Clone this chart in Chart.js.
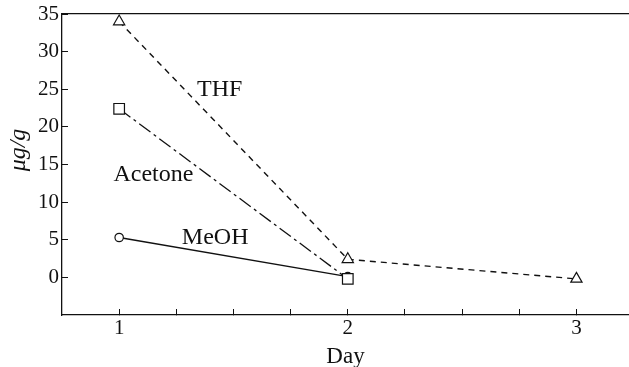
<!DOCTYPE html>
<html>
<head>
<meta charset="utf-8">
<script src="https://cdn.jsdelivr.net/npm/chart.js@4/dist/chart.umd.min.js"></script>
<style>
  html, body { margin: 0; padding: 0; background: #fff; }
  #wrap { width: 629px; height: 367px; }
</style>
</head>
<body>
<div id="wrap"><canvas id="myChart" width="629" height="367"></canvas></div>
<script>
// data
var days = [1, 2, 3];
var thf = [34, 2.4, -0.2];
var acetone = [22.4, -0.2];
var meoh = [5.3, 0.1];

// in-plot series labels (day, value)
var labelNames = ['THF', 'Acetone', 'MeOH'];
var labelDays = [1.44, 1.15, 1.42];
var labelValues = [25.0, 13.6, 5.3];

var serif = "'Liberation Serif', 'Times New Roman', serif";

function pts(xs, ys) {
	return ys.map(function (v, i) { return { x: xs[i], y: v }; });
}

var seriesLabels = {
	id: 'seriesLabels',
	afterDatasetsDraw: function (chart) {
		var ctx = chart.ctx;
		var sx = chart.scales.x, sy = chart.scales.y;
		ctx.save();
		ctx.fillStyle = '#111';
		ctx.font = '24px ' + serif;
		ctx.textAlign = 'center';
		ctx.textBaseline = 'middle';
		for (var i = 0; i < labelNames.length; i++) {
			ctx.fillText(labelNames[i], sx.getPixelForValue(labelDays[i]), sy.getPixelForValue(labelValues[i]));
		}
		// y axis title, sits a bit above the axis centre in the original
		ctx.translate(19, 150);
		ctx.rotate(-Math.PI / 2);
		ctx.font = 'italic 24px ' + serif;
		ctx.fillText('μg/g', 0, 0);
		ctx.restore();
	}
};

var ctx = document.getElementById('myChart');
new Chart(ctx, {
	type: 'line',
	data: {
		datasets: [
			{
				label: 'THF',
				data: pts(days, thf),
				borderColor: '#111',
				borderWidth: 1.4,
				borderDash: [6, 5],
				pointStyle: 'triangle',
				pointRadius: 6.5,
				pointBackgroundColor: '#fff',
				pointBorderColor: '#111',
				pointBorderWidth: 1.2
			},
			{
				label: 'Acetone',
				data: pts(days, acetone),
				borderColor: '#111',
				borderWidth: 1.3,
				borderDash: [14, 4, 3, 4],
				pointStyle: 'rect',
				pointRadius: 7.5,
				pointBackgroundColor: '#fff',
				pointBorderColor: '#111',
				pointBorderWidth: 1.2
			},
			{
				label: 'MeOH',
				data: pts(days, meoh),
				borderColor: '#111',
				borderWidth: 1.3,
				pointStyle: 'circle',
				pointRadius: 4.2,
				pointBackgroundColor: '#fff',
				pointBorderColor: '#111',
				pointBorderWidth: 1.2
			}
		]
	},
	options: {
		responsive: false,
		animation: false,
		layout: { autoPadding: false, padding: { top: 14, right: 0, left: 0, bottom: 0 } },
		plugins: {
			legend: { display: false },
			tooltip: { enabled: false }
		},
		scales: {
			x: {
				type: 'linear',
				position: 'bottom',
				min: 0.75,
				max: 3.23,
				afterFit: function (s) { s.height = 52; s.paddingLeft = 0; s.paddingRight = 0; },
				grid: {
					display: true, drawOnChartArea: false, drawTicks: true, tickLength: -6,
					color: function (c) { return c.tick && c.tick.value < 1 ? 'rgba(0,0,0,0)' : '#111'; }
				},
				border: { display: true, color: '#111', width: 1.3 },
				ticks: {
					stepSize: 0.25,
					includeBounds: false,
					autoSkip: false,
					maxRotation: 0,
					padding: 7,
					color: '#111',
					font: { family: serif, size: 21 },
					callback: function (v) { return Number.isInteger(v) ? String(v) : ''; }
				},
				title: {
					display: true,
					text: 'Day',
					color: '#111',
					font: { family: serif, size: 23 },
					padding: { top: 0, bottom: -4 }
				}
			},
			x2: {
				type: 'linear',
				position: 'top',
				min: 0.75,
				max: 3.23,
				afterFit: function (s) { s.height = 0; s.paddingLeft = 0; s.paddingRight = 0; },
				grid: { display: false },
				border: { display: true, color: '#111', width: 1.3 },
				ticks: { display: false }
			},
			y: {
				type: 'linear',
				position: 'left',
				min: -5,
				max: 35,
				afterFit: function (s) { s.width = 62; s.paddingTop = 0; s.paddingBottom = 0; },
				grid: {
					display: true, drawOnChartArea: false, drawTicks: true, tickLength: -6,
					color: function (c) { return c.tick && c.tick.value < 0 ? 'rgba(0,0,0,0)' : '#111'; }
				},
				border: { display: true, color: '#111', width: 1.3 },
				ticks: {
					stepSize: 5,
					padding: 9,
					color: '#111',
					font: { family: serif, size: 21 },
					callback: function (v) { return v < 0 ? '' : String(v); }
				}
			}
		}
	},
	plugins: [seriesLabels]
});
</script>
</body>
</html>
